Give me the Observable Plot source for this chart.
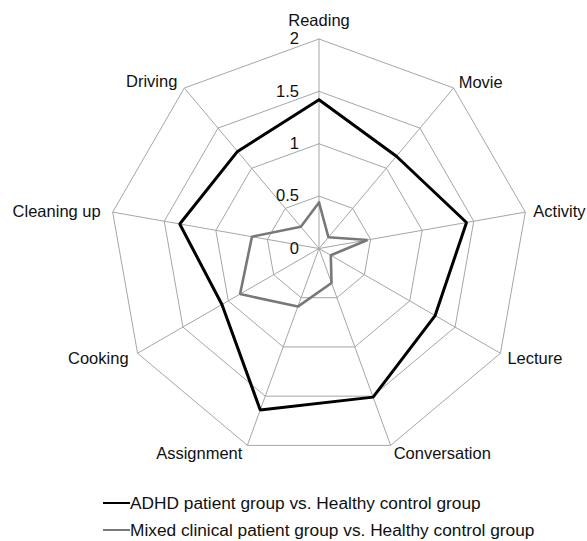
<!DOCTYPE html>
<html>
<head>
<meta charset="utf-8">
<script src="https://cdn.jsdelivr.net/npm/d3@7"></script>
<script src="https://cdn.jsdelivr.net/npm/@observablehq/plot@0.6"></script>
<style>
  html, body { margin: 0; padding: 0; background: #fff; }
  body { font-family: "Liberation Sans", Arial, sans-serif; width: 587px; height: 541px; overflow: hidden; }
  #legend { padding-left: 103px; font-size: 17.3px; color: #111; }
  #legend .row { height: 27px; line-height: 27px; white-space: nowrap; }
  #legend .sw { display: inline-block; width: 27px; vertical-align: middle; margin-right: 0px; position: relative; top: -1px; }
</style>
</head>
<body>
<div id="chart"></div>
<div id="legend"></div>
<script>
// ---- data ----
const axes = ["Reading", "Movie", "Activity", "Lecture", "Conversation", "Assignment", "Cooking", "Cleaning up", "Driving"];
const adhd = [1.42, 1.15, 1.43, 1.28, 1.51, 1.64, 1.07, 1.35, 1.21];
const mixed = [0.44, 0.14, 0.47, 0.13, 0.35, 0.59, 0.87, 0.65, 0.27];
const seriesNames = ["ADHD patient group vs. Healthy control group", "Mixed clinical patient group vs. Healthy control group"];
const tickValues = [0, 0.5, 1, 1.5, 2];
const tickLabels = ["0", "0.5", "1", "1.5", "2"];
const maxValue = 2;

// ---- geometry helpers ----
const n = axes.length;
const angle = (i) => (2 * Math.PI * i) / n; // clockwise from north
const px = (i, v) => v * Math.sin(angle(i));
const py = (i, v) => v * Math.cos(angle(i));

// grid rings (closed polygons)
const ringPts = [];
tickValues.filter((t) => t > 0).forEach((t) => {
  for (let k = 0; k <= n; k++) ringPts.push({ ring: t, i: k % n, v: t });
});
const spokes = axes.map((a, i) => ({ i, v: maxValue }));

const seriesVals = [adhd, mixed];
const seriesPts = [];
seriesVals.forEach((vals, s) => {
  for (let k = 0; k <= n; k++) seriesPts.push({ s: seriesNames[s], i: k % n, v: vals[k % n] });
});
const seriesColors = ["#000000", "#787878"];
const seriesWidths = [3, 2.6];
const legendWidths = [2.2, 2.2];

const labelData = axes.map((a, i) => ({ name: a, i }));
const labelLayout = {
  "Reading": { anchor: "middle", dx: 0, dy: -18 },
  "Movie": { anchor: "start", dx: 5, dy: -5 },
  "Activity": { anchor: "start", dx: 8, dy: 0 },
  "Lecture": { anchor: "start", dx: 7, dy: 5 },
  "Conversation": { anchor: "start", dx: 3, dy: 8 },
  "Assignment": { anchor: "end", dx: -5, dy: 8 },
  "Cooking": { anchor: "end", dx: -9, dy: 5 },
  "Cleaning up": { anchor: "end", dx: -12, dy: 0 },
  "Driving": { anchor: "end", dx: -7, dy: -6 }
};

const cx = 318.5, cy = 248, unit = 104.75;

const marks = [
  Plot.line(ringPts, {
    x: (d) => px(d.i, d.v), y: (d) => py(d.i, d.v), z: "ring",
    stroke: "#a6a6a6", strokeWidth: 1
  }),
  Plot.link(spokes, {
    x1: 0, y1: 0, x2: (d) => px(d.i, d.v), y2: (d) => py(d.i, d.v),
    stroke: "#a6a6a6", strokeWidth: 1
  }),
  Plot.text(tickValues, {
    x: 0, y: (d) => d, text: (d, k) => tickLabels[k],
    textAnchor: "end", dx: -20, fontSize: 16.5, fill: "#111"
  }),
  ...seriesNames.map((name, s) => Plot.line(seriesPts.filter((d) => d.s === name), {
    x: (d) => px(d.i, d.v), y: (d) => py(d.i, d.v),
    stroke: seriesColors[s], strokeWidth: seriesWidths[s], strokeLinejoin: "miter"
  })),
  ...labelData.map((d) => {
    const L = labelLayout[d.name];
    return Plot.text([d], {
      x: (e) => px(e.i, maxValue), y: (e) => py(e.i, maxValue), text: "name",
      textAnchor: L.anchor, dx: L.dx, dy: L.dy, fontSize: 16.5, fill: "#111"
    });
  })
];

const chart = Plot.plot({
  width: 587,
  height: 490,
  margin: 0,
  style: { fontFamily: "'Liberation Sans', Arial, sans-serif", overflow: "visible", background: "#fff" },
  x: { domain: [-1, 1], range: [cx - unit, cx + unit], axis: null },
  y: { domain: [-1, 1], range: [cy + unit, cy - unit], axis: null },
  marks
});
document.getElementById("chart").appendChild(chart);

const legend = document.getElementById("legend");
seriesNames.forEach((name, s) => {
  const row = document.createElement("div");
  row.className = "row";
  const sw = document.createElement("span");
  sw.className = "sw";
  sw.style.borderTop = `${legendWidths[s]}px solid ${seriesColors[s]}`;
  row.appendChild(sw);
  row.appendChild(document.createTextNode(name));
  legend.appendChild(row);
});
</script>
</body>
</html>
